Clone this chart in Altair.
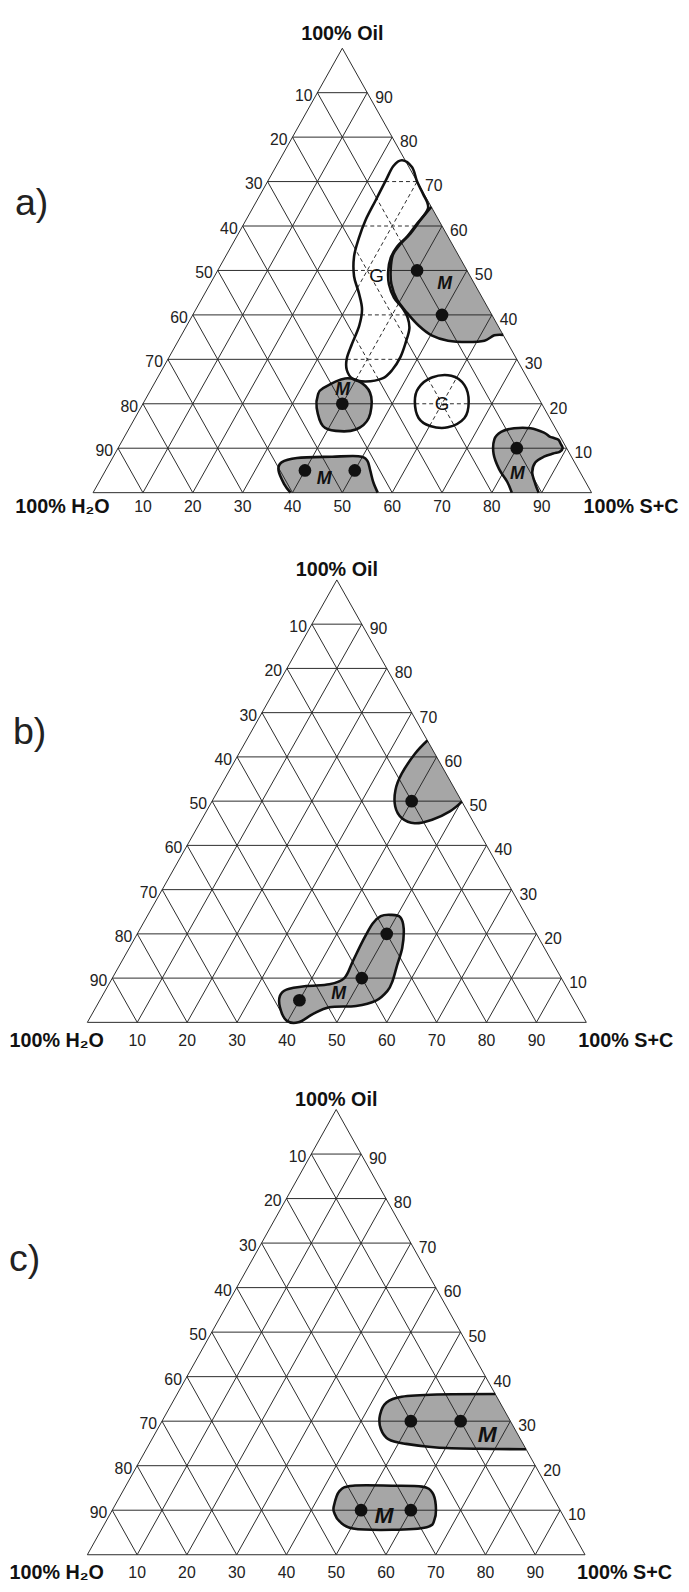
import altair as alt
import pandas as pd

# ---------------- data ----------------
TICKS = [10, 20, 30, 40, 50, 60, 70, 80, 90]

# panel a) -- compositions given as (oil %, S+C %); water = 100 - oil - S+C
A_POINT_OIL = [50, 40, 20, 5, 5, 10]
A_POINT_SC = [40, 50, 40, 40, 50, 80]

A_G_TOP_OIL = [74.8, 73.2, 70.0, 67.2, 64.0, 60.4, 57.6, 55.4, 52.8, 49.8, 46.9, 43.9, 41.7, 39.4, 36.9,
               33.9, 30.5, 27.6, 25.7, 25.0, 25.6, 27.6, 30.2, 33.5, 37.6, 41.3, 45.0, 48.7, 53.1, 57.2,
               61.3, 65.8, 70.2, 73.5]
A_G_TOP_SC = [24.6, 27.4, 30.0, 32.6, 35.2, 34.7, 34.2, 33.3, 33.3, 34.3, 35.9, 38.4, 41.1, 43.4, 45.0,
              45.8, 46.4, 46.2, 45.2, 42.2, 39.3, 37.1, 35.8, 35.2, 34.6, 33.3, 30.8, 28.0, 25.8, 24.7,
              24.0, 23.8, 23.6, 23.5]
A_G_MID_OIL = [23.5, 25.9, 26.3, 24.2, 20.5, 16.8, 14.7, 15.0, 16.8, 20.5]
A_G_MID_SC = [53.5, 55.0, 58.7, 62.4, 65.1, 66.1, 63.8, 60.1, 56.9, 54.3]

A_M_TOP_OIL = [64.3, 61.3, 58.3, 55.7, 53.5, 50.2, 46.9, 43.5, 40.5, 37.6, 35.4, 34.2, 33.9, 34.2, 35.4, 35.5]
A_M_TOP_SC = [35.7, 35.0, 34.5, 33.6, 33.4, 34.6, 36.4, 39.2, 42.7, 46.5, 50.2, 54.1, 58.2, 61.4, 62.8, 64.5]
A_M_MID_OIL = [23.5, 25.7, 24.6, 21.6, 16.8, 14.2, 13.9, 15.0, 19.1, 22.0]
A_M_MID_SC = [34.4, 37.7, 41.7, 45.0, 46.9, 45.6, 41.8, 38.6, 35.3, 34.1]
A_M_BASE_OIL = [0, 2.0, 5.0, 6.8, 7.8, 8.1, 8.2, 7.3, 5.0, 2.4, 0]
A_M_BASE_SC = [39.6, 37.3, 34.7, 34.4, 37.0, 43.9, 49.1, 51.3, 53.1, 55.0, 57.1]
A_M_CORNER_OIL = [0, 2.4, 5.3, 8.7, 12.0, 13.7, 14.5, 14.5, 13.5, 12.6, 12.3, 11.9, 11.0, 10.0, 9.2, 8.8,
                  8.1, 6.8, 4.6, 2.0, 0]
A_M_CORNER_SC = [84.0, 81.9, 78.8, 76.0, 74.5, 75.0, 77.2, 80.5, 83.7, 85.3, 86.3, 87.4, 88.3, 89.2, 89.0,
                 87.9, 86.4, 85.3, 85.8, 87.7, 89.4]

A_LABEL_TEXT = ["M", "G", "M", "G", "M", "M"]
A_LABEL_OIL = [46.9, 48.7, 23.1, 20.0, 3.1, 4.2]
A_LABEL_SC = [47.1, 32.5, 38.5, 60.0, 44.8, 83.0]

# panel b)
B_POINT_OIL = [50, 20, 10, 5]
B_POINT_SC = [40, 50, 50, 40]
B_M_TOP_OIL = [63.7, 60.7, 56.2, 52.5, 48.8, 46.2, 45.0, 45.8, 47.7, 49.9]
B_M_TOP_SC = [36.3, 35.3, 34.9, 35.5, 37.3, 39.9, 43.1, 46.2, 48.8, 50.1]
B_M_LOW_OIL = [24.3, 23.8, 21.2, 16.8, 13.0, 9.3, 7.1, 4.9, 3.7, 3.4, 1.9, 0.0, 0.4, 3.4, 6.0, 7.4, 8.2,
               8.6, 10.0, 13.8, 18.3, 22.3, 24.0]
B_M_LOW_SC = [48.6, 50.8, 52.8, 54.7, 55.6, 56.5, 56.6, 55.4, 52.0, 46.8, 44.3, 42.3, 39.7, 36.9, 35.6,
              36.2, 39.8, 44.2, 46.5, 46.3, 46.0, 46.0, 46.8]
B_LABEL_TEXT = ["M"]
B_LABEL_OIL = [6.3]
B_LABEL_SC = [47.2]

# panel c)
C_POINT_OIL = [30, 30, 10, 10]
C_POINT_SC = [50, 60, 50, 60]
C_M_TOP_OIL = [36.1, 36.0, 35.5, 34.2, 31.4, 28.3, 25.9, 24.9, 24.1, 23.8, 23.7]
C_M_TOP_SC = [63.9, 52.2, 45.4, 43.0, 43.1, 44.8, 47.6, 51.6, 58.1, 67.0, 76.3]
C_M_LOW_OIL = [10.8, 14.3, 15.5, 15.5, 15.3, 14.0, 11.2, 7.9, 6.2, 5.6, 5.9, 7.5, 9.3]
C_M_LOW_SC = [44.1, 43.5, 45.6, 53.5, 59.6, 62.3, 64.4, 65.8, 65.1, 58.4, 50.4, 46.9, 45.0]
C_LABEL_TEXT = ["M", "M"]
C_LABEL_OIL = [26.9, 8.6]
C_LABEL_SC = [66.9, 55.3]

# ---------------- styles / layout ----------------
FONT = "Liberation Sans"
GRAY = "#a6a6a6"
INK = "#111111"
GRID = "#2a2a2a"
PAGE_W = 681


def to_uv(oil, sc):
    """ternary (oil, S+C) -> plot units: u across the base (0..100), v = height (0..100)"""
    return sc + oil / 2.0, oil


def poly_uv(oil_list, sc_list):
    return [to_uv(o, s) for o, s in zip(oil_list, sc_list)]


def inside(pt, poly):
    x, y = pt
    c = False
    n = len(poly)
    for i in range(n):
        x1, y1 = poly[i]
        x2, y2 = poly[(i + 1) % n]
        if (y1 > y) != (y2 > y):
            xi = x1 + (y - y1) * (x2 - x1) / (y2 - y1)
            if xi > x:
                c = not c
    return c


def cuts(p, q, poly):
    ts = []
    dx, dy = q[0] - p[0], q[1] - p[1]
    n = len(poly)
    for i in range(n):
        a = poly[i]
        b = poly[(i + 1) % n]
        ex, ey = b[0] - a[0], b[1] - a[1]
        den = dx * ey - dy * ex
        if abs(den) < 1e-12:
            continue
        t = ((a[0] - p[0]) * ey - (a[1] - p[1]) * ex) / den
        s = ((a[0] - p[0]) * dy - (a[1] - p[1]) * dx) / den
        if 0 < t < 1 and 0 <= s <= 1:
            ts.append(t)
    return ts


def grid_frames(dash_polys):
    segs = []
    for k in TICKS:
        segs.append(((k, 0), (k, 100 - k)))        # constant oil
        segs.append(((0, k), (100 - k, k)))        # constant S+C
        segs.append(((0, 100 - k), (100 - k, 0)))  # constant water
    solid, dashed = [], []
    for (o1, s1), (o2, s2) in segs:
        p = to_uv(o1, s1)
        q = to_uv(o2, s2)
        ts = [0.0, 1.0]
        for poly in dash_polys:
            ts += cuts(p, q, poly)
        ts = sorted(set(ts))
        for t0, t1 in zip(ts[:-1], ts[1:]):
            tm = 0.5 * (t0 + t1)
            m = (p[0] + tm * (q[0] - p[0]), p[1] + tm * (q[1] - p[1]))
            row = {"u": p[0] + t0 * (q[0] - p[0]), "v": p[1] + t0 * (q[1] - p[1]),
                   "u2": p[0] + t1 * (q[0] - p[0]), "v2": p[1] + t1 * (q[1] - p[1])}
            if any(inside(m, poly) for poly in dash_polys):
                dashed.append(row)
            else:
                solid.append(row)
    # outer triangle edges
    for (o1, s1), (o2, s2) in [((0, 0), (0, 100)), ((0, 0), (100, 0)), ((0, 100), (100, 0))]:
        u1, v1 = to_uv(o1, s1)
        u2, v2 = to_uv(o2, s2)
        solid.append({"u": u1, "v": v1, "u2": u2, "v2": v2})
    return pd.DataFrame(solid), pd.DataFrame(dashed, columns=["u", "v", "u2", "v2"])


def path_frame(regions):
    rows = []
    for rid, (oil_list, sc_list) in enumerate(regions):
        for i, (o, s) in enumerate(zip(oil_list, sc_list)):
            u, v = to_uv(o, s)
            rows.append({"rid": rid, "i": i, "u": u, "v": v})
    return pd.DataFrame(rows, columns=["rid", "i", "u", "v"])


def make_panel(cfg):
    W = PAGE_W
    H = cfg["bottom"] - cfg["top"]
    sx = (cfg["right"] - cfg["left"]) / 100.0
    x0 = cfg["left"] - 8
    sy = (cfg["base"] - cfg["apex"]) / 100.0
    bl = cfg["base"] - cfg["top"]
    xs = alt.Scale(domain=[-x0 / sx, (W - x0) / sx], nice=False, zero=False)
    ys = alt.Scale(domain=[(bl - H) / sy, bl / sy], nice=False, zero=False)

    def base(df):
        return alt.Chart(df).encode(
            x=alt.X("u:Q", scale=xs, axis=None),
            y=alt.Y("v:Q", scale=ys, axis=None),
        )

    layers = []
    # gray fills of the M regions
    m_open = path_frame(cfg["m_open"])
    m_closed = path_frame(cfg["m_closed"])
    g_open = path_frame(cfg["g_open"])
    g_closed = path_frame(cfg["g_closed"])
    if len(m_open):
        layers.append(base(m_open).mark_line(interpolate="cardinal", fill=GRAY, stroke=GRAY,
                                             strokeWidth=0).encode(detail="rid:N", order="i:Q"))
    if len(m_closed):
        layers.append(base(m_closed).mark_line(interpolate="cardinal-closed", fill=GRAY, stroke=GRAY,
                                               strokeWidth=0).encode(detail="rid:N", order="i:Q"))

    # grid
    dash_polys = [poly_uv(o, s) for o, s in cfg["g_closed"] + cfg["g_open"]]
    solid, dashed = grid_frames(dash_polys)
    layers.append(base(solid).mark_rule(color=GRID, strokeWidth=1.0).encode(x2="u2:Q", y2="v2:Q"))
    if len(dashed):
        layers.append(base(dashed).mark_rule(color=GRID, strokeWidth=1.0, strokeDash=[4, 3])
                      .encode(x2="u2:Q", y2="v2:Q"))

    # region outlines
    for df, interp in [(m_open, "cardinal"), (g_open, "cardinal"),
                       (m_closed, "cardinal-closed"), (g_closed, "cardinal-closed")]:
        if len(df):
            layers.append(base(df).mark_line(interpolate=interp, stroke=INK, strokeWidth=2.6,
                                             strokeJoin="round").encode(detail="rid:N", order="i:Q"))

    # sample points
    pts = pd.DataFrame([dict(zip(("u", "v"), to_uv(o, s))) for o, s in zip(cfg["pt_oil"], cfg["pt_sc"])])
    layers.append(base(pts).mark_circle(size=165, color=INK, opacity=1))

    # region letters
    lab = pd.DataFrame([dict(zip(("u", "v"), to_uv(o, s)), t=t)
                        for t, o, s in zip(cfg["lab_text"], cfg["lab_oil"], cfg["lab_sc"])])
    lab_m = lab[lab["t"] == "M"]
    lab_g = lab[lab["t"] == "G"]
    if len(lab_m):
        layers.append(base(lab_m).mark_text(font=FONT, fontSize=cfg["mfont"], fontStyle="italic",
                                            fontWeight="bold", color=INK, baseline="middle")
                      .encode(text="t:N"))
    if len(lab_g):
        layers.append(base(lab_g).mark_text(font=FONT, fontSize=19, color=INK, baseline="middle")
                      .encode(text="t:N"))

    # tick labels
    left = pd.DataFrame([dict(zip(("u", "v"), to_uv(k, 0)), t=str(100 - k)) for k in TICKS])
    right = pd.DataFrame([dict(zip(("u", "v"), to_uv(k, 100 - k)), t=str(k)) for k in TICKS])
    bottom = pd.DataFrame([dict(zip(("u", "v"), to_uv(0, k)), t=str(k)) for k in TICKS])
    tick_style = dict(font=FONT, fontSize=16, color="#222222", baseline="middle")
    layers.append(base(left).mark_text(align="right", dx=-5, dy=3, **tick_style).encode(text="t:N"))
    layers.append(base(right).mark_text(align="left", dx=8, dy=5, **tick_style).encode(text="t:N"))
    layers.append(base(bottom).mark_text(align="center", dy=cfg["label_dy"], **tick_style).encode(text="t:N"))

    # corner labels
    corner_style = dict(font=FONT, fontSize=20, fontWeight="bold", color=INK, baseline="middle",
                        align="center")
    apex = pd.DataFrame([dict(zip(("u", "v"), to_uv(100, 0)), t="100% Oil")])
    water = pd.DataFrame([dict(zip(("u", "v"), to_uv(0, 0)), t="100% H\u2082O")])
    sc = pd.DataFrame([dict(zip(("u", "v"), to_uv(0, 100)), t="100% S+C")])
    layers.append(base(apex).mark_text(dy=cfg["oil_dy"], **corner_style).encode(text="t:N"))
    layers.append(base(water).mark_text(dx=-31, dy=cfg["label_dy"], **corner_style).encode(text="t:N"))
    layers.append(base(sc).mark_text(dx=40, dy=cfg["label_dy"], **corner_style).encode(text="t:N"))

    # panel tag
    tag = pd.DataFrame({"t": [cfg["tag"]]})
    layers.append(alt.Chart(tag).mark_text(font=FONT, fontSize=38, color="#222222", align="left",
                                           baseline="middle")
                  .encode(x=alt.value(cfg["tag_x"]), y=alt.value(cfg["tag_y"]), text="t:N"))

    return alt.layer(*layers).properties(width=W, height=H)


PANEL_A = dict(top=8, bottom=522, left=94.1, right=598.5, apex=39.3, base=489, label_dy=15, oil_dy=-14,
               tag="a)", tag_x=7, tag_y=189, mfont=18,
               m_open=[(A_M_TOP_OIL, A_M_TOP_SC), (A_M_BASE_OIL, A_M_BASE_SC), (A_M_CORNER_OIL, A_M_CORNER_SC)],
               m_closed=[(A_M_MID_OIL, A_M_MID_SC)],
               g_open=[], g_closed=[(A_G_TOP_OIL, A_G_TOP_SC), (A_G_MID_OIL, A_G_MID_SC)],
               pt_oil=A_POINT_OIL, pt_sc=A_POINT_SC,
               lab_text=A_LABEL_TEXT, lab_oil=A_LABEL_OIL, lab_sc=A_LABEL_SC)
PANEL_B = dict(top=522, bottom=1054, left=88.3, right=593.2, apex=577.3, base=1025, label_dy=19, oil_dy=-10,
               tag="b)", tag_x=5, tag_y=210, mfont=18,
               m_open=[(B_M_TOP_OIL, B_M_TOP_SC)], m_closed=[(B_M_LOW_OIL, B_M_LOW_SC)],
               g_open=[], g_closed=[],
               pt_oil=B_POINT_OIL, pt_sc=B_POINT_SC,
               lab_text=B_LABEL_TEXT, lab_oil=B_LABEL_OIL, lab_sc=B_LABEL_SC)
PANEL_C = dict(top=1054, bottom=1592, left=88.3, right=591.9, apex=1113.2, base=1563.7, label_dy=19,
               oil_dy=-10, tag="c)", tag_x=1, tag_y=212, mfont=23,
               m_open=[(C_M_TOP_OIL, C_M_TOP_SC)], m_closed=[(C_M_LOW_OIL, C_M_LOW_SC)],
               g_open=[], g_closed=[],
               pt_oil=C_POINT_OIL, pt_sc=C_POINT_SC,
               lab_text=C_LABEL_TEXT, lab_oil=C_LABEL_OIL, lab_sc=C_LABEL_SC)

chart = alt.vconcat(make_panel(PANEL_A), make_panel(PANEL_B), make_panel(PANEL_C),
                    spacing=0, bounds="flush").properties(padding=0).configure_view(strokeWidth=0)

chart.save("out.html", embed_options={"renderer": "svg", "actions": False})
